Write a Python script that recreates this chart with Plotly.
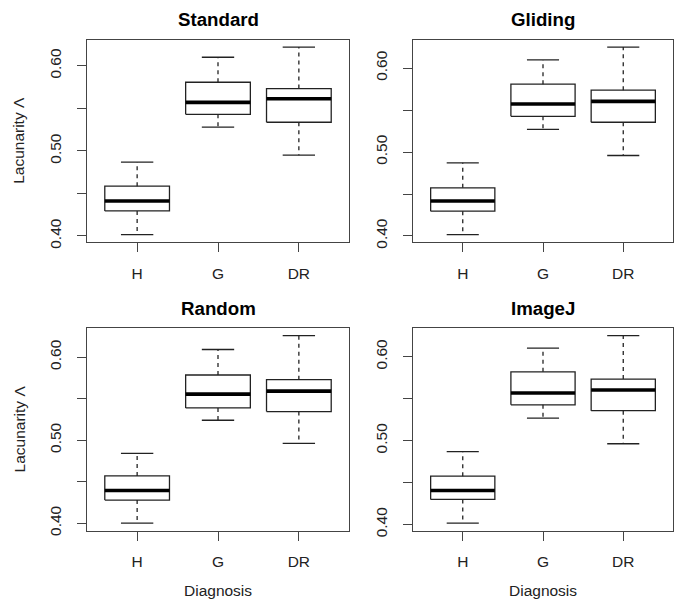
import plotly.graph_objects as go

# ---- data ----
methods = ["Standard", "Gliding", "Random", "ImageJ"]
categories = ["H", "G", "DR"]

# per method, per category (H, G, DR)
lower_whisker = {
    "Standard": [0.4016, 0.5279, 0.4950],
    "Gliding":  [0.4016, 0.5269, 0.4959],
    "Random":   [0.4000, 0.5240, 0.4962],
    "ImageJ":   [0.4016, 0.5269, 0.4963],
}
q1 = {
    "Standard": [0.4295, 0.5430, 0.5337],
    "Gliding":  [0.4295, 0.5426, 0.5355],
    "Random":   [0.4279, 0.5388, 0.5344],
    "ImageJ":   [0.4299, 0.5426, 0.5357],
}
median = {
    "Standard": [0.4412, 0.5570, 0.5613],
    "Gliding":  [0.4417, 0.5572, 0.5603],
    "Random":   [0.4394, 0.5555, 0.5591],
    "ImageJ":   [0.4405, 0.5567, 0.5603],
}
q3 = {
    "Standard": [0.4586, 0.5807, 0.5733],
    "Gliding":  [0.4574, 0.5808, 0.5737],
    "Random":   [0.4569, 0.5785, 0.5729],
    "ImageJ":   [0.4577, 0.5820, 0.5733],
}
upper_whisker = {
    "Standard": [0.4869, 0.6101, 0.6221],
    "Gliding":  [0.4872, 0.6098, 0.6251],
    "Random":   [0.4840, 0.6092, 0.6259],
    "ImageJ":   [0.4869, 0.6103, 0.6251],
}

y_tick_vals = [0.40, 0.45, 0.50, 0.55, 0.60]
y_tick_text = ["0.40", "", "0.50", "", "0.60"]
y_title = "Lacunarity Λ"
x_title = "Diagnosis"

# ---- layout geometry ----
W, H = 678, 599
panels = {
    "Standard": dict(x0=87, x1=349, y0=40, y1=245),
    "Gliding":  dict(x0=413, x1=673, y0=40, y1=245),
    "Random":   dict(x0=87, x1=349, y0=332, y1=537),
    "ImageJ":   dict(x0=413, x1=673, y0=332, y1=537),
}
BOXW = 0.4      # half box width (boxwex 0.8)
STAPLE = 0.2    # half staple width
LINE_C = "#222222"
FONT = "Liberation Sans, Arial, sans-serif"
FS = 15.5

fig = go.Figure()
layout_axes = {}
annotations = []

for k, m in enumerate(methods):
    p = panels[m]
    ax = "" if k == 0 else str(k + 1)
    xref, yref = "x" + ax, "y" + ax
    xs = list(range(1, len(categories) + 1))

    bx, by = [], []
    medx, medy = [], []
    wx, wy = [], []
    sx, sy = [], []
    for i, xc in enumerate(xs):
        a, b = xc - BOXW, xc + BOXW
        bx += [a, b, b, a, a, None]
        by += [q1[m][i], q1[m][i], q3[m][i], q3[m][i], q1[m][i], None]
        medx += [a, b, None]
        medy += [median[m][i], median[m][i], None]
        wx += [xc, xc, None, xc, xc, None]
        wy += [q3[m][i], upper_whisker[m][i], None, q1[m][i], lower_whisker[m][i], None]
        sx += [xc - STAPLE, xc + STAPLE, None, xc - STAPLE, xc + STAPLE, None]
        sy += [upper_whisker[m][i], upper_whisker[m][i], None,
               lower_whisker[m][i], lower_whisker[m][i], None]

    common = dict(xaxis=xref, yaxis=yref, mode="lines", showlegend=False, hoverinfo="skip")
    fig.add_trace(go.Scatter(x=wx, y=wy, line=dict(color=LINE_C, width=1.3, dash="4px,4px"), **common))
    fig.add_trace(go.Scatter(x=sx, y=sy, line=dict(color=LINE_C, width=1.3), **common))
    fig.add_trace(go.Scatter(x=bx, y=by, line=dict(color=LINE_C, width=1.3), **common))
    fig.add_trace(go.Scatter(x=medx, y=medy, line=dict(color="#000000", width=3.6), **common))

    all_vals = lower_whisker[m] + upper_whisker[m]
    lo, hi = min(all_vals), max(all_vals)
    pad = (hi - lo) * 0.04

    xdom = [p["x0"] / W, p["x1"] / W]
    ydom = [1 - p["y1"] / H, 1 - p["y0"] / H]
    layout_axes["xaxis" + ax] = dict(
        domain=xdom, anchor=yref, range=[0.38, 3.62],
        tickvals=xs, ticktext=categories, ticks="outside", ticklen=9,
        tickwidth=1.3, tickcolor="#444444",
        showline=True, mirror=True, linecolor="#444444", linewidth=1.3,
        showgrid=False, zeroline=False, fixedrange=True,
        tickfont=dict(family=FONT, size=FS, color="#222222"),
        ticklabelstandoff=8,
    )
    layout_axes["yaxis" + ax] = dict(
        domain=ydom, anchor=xref, range=[lo - pad, hi + pad],
        tickvals=y_tick_vals, ticktext=y_tick_text, tickangle=-90,
        ticks="outside", ticklen=9, tickwidth=1.3, tickcolor="#444444",
        showline=True, mirror=True, linecolor="#444444", linewidth=1.3,
        showgrid=False, zeroline=False, fixedrange=True,
        tickfont=dict(family=FONT, size=FS, color="#222222"),
        ticklabelstandoff=10,
    )

    annotations.append(dict(
        text="<b>" + m + "</b>", xref="paper", yref="paper",
        x=(p["x0"] + p["x1"]) / 2 / W, y=1 - (p["y0"] - 20) / H,
        xanchor="center", yanchor="middle", showarrow=False,
        font=dict(family=FONT, size=18.7, color="#000000"),
    ))
    if p["x0"] < 200:
        annotations.append(dict(
            text=y_title, xref="paper", yref="paper",
            x=19 / W, y=1 - (p["y0"] + p["y1"]) / 2 / H,
            xanchor="center", yanchor="middle", textangle=-90, showarrow=False,
            font=dict(family=FONT, size=FS, color="#222222"),
        ))
    if p["y0"] > 300:
        annotations.append(dict(
            text=x_title, xref="paper", yref="paper",
            x=(p["x0"] + p["x1"]) / 2 / W, y=1 - (p["y1"] + 60) / H,
            xanchor="center", yanchor="middle", showarrow=False,
            font=dict(family=FONT, size=FS, color="#222222"),
        ))

fig.update_layout(
    width=W, height=H, margin=dict(l=0, r=0, t=0, b=0),
    paper_bgcolor="white", plot_bgcolor="white",
    annotations=annotations, **layout_axes,
)

fig.write_html("out.html")
